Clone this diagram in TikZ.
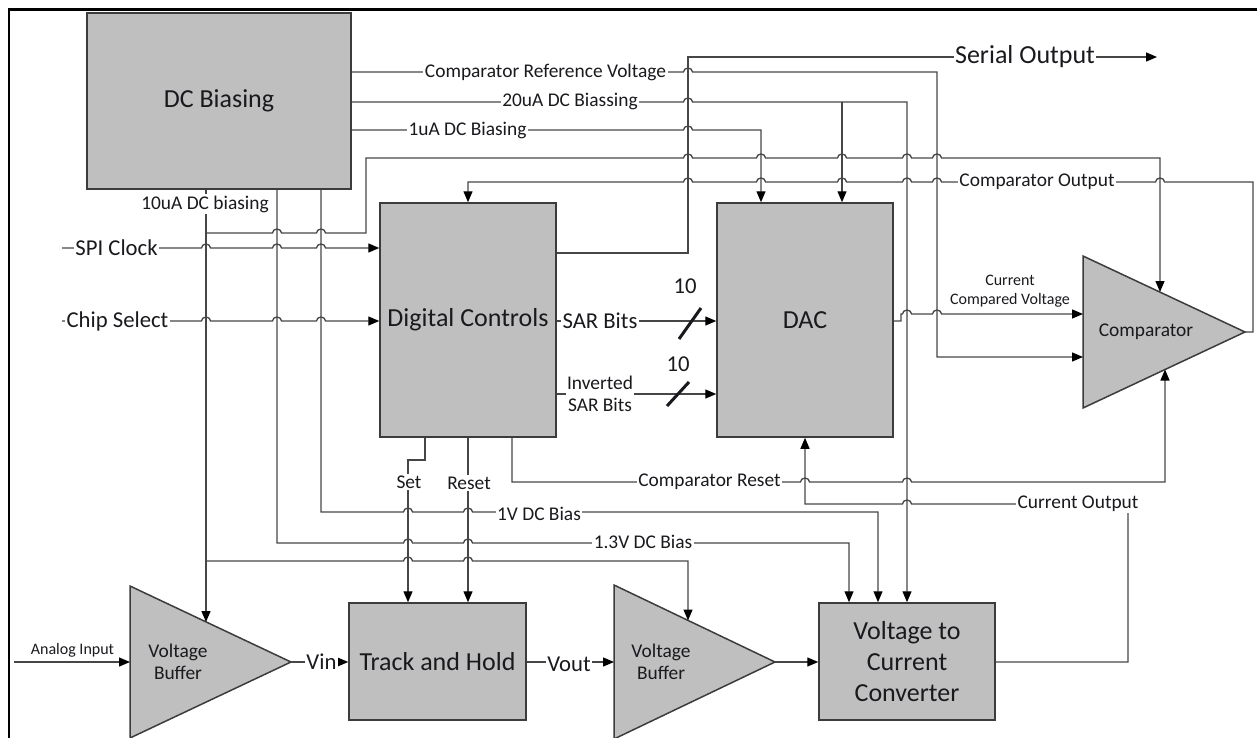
\documentclass[tikz,border=0pt]{standalone}
\usepackage{fontspec}
\setmainfont{Carlito}
\usetikzlibrary{arrows.meta}
\definecolor{wirec}{RGB}{70,70,70}
\definecolor{edgec}{RGB}{60,60,60}
\definecolor{blockc}{RGB}{191,191,191}
\definecolor{textc}{RGB}{25,25,30}
\begin{document}
\begin{tikzpicture}[x=1pt,y=-1pt,
  fXL/.style={font=\fontsize{26}{31}\selectfont},
  fL/.style={font=\fontsize{22.7}{27}\selectfont},
  fM/.style={font=\fontsize{19.4}{22.5}\selectfont},
  fS/.style={font=\fontsize{16}{19}\selectfont},
  wire/.style={draw=wirec, line width=1.3pt},
  arr/.style={wire, -{Triangle[length=11pt,width=9pt,color=black]}},
  block/.style={draw=edgec, line width=1.5pt, fill=blockc, inner sep=0pt,
                text=textc, align=center, fXL},
  tri/.style={draw=edgec, line width=1.5pt, fill=blockc},
  lbl/.style={fill=white, inner sep=1.5pt, text=textc, align=center},
  txt/.style={inner sep=0pt, text=textc, align=center},
  hopr/.style 2 args={insert path={-- ({#1-4.5},#2) arc[start angle=180,end angle=0,x radius=4.5pt,y radius=4pt]}},
  hopl/.style 2 args={insert path={-- ({#1+4.5},#2) arc[start angle=0,end angle=180,x radius=4.5pt,y radius=4pt]}},
]
\useasboundingbox (0,0) rectangle (1257,738);

% outer frame (left and top edges)
\draw[line width=2.5pt] (9,738) -- (9,9.5) -- (1257,9.5);

% columns and rows used by the wiring
\foreach \v in {206,277,321,366,408,425,468,512,688,761,805,842,849,878,907,937,1128,1160,1165,1253}
  \coordinate (c\v) at (\v,0);
\foreach \v in {57,72,102,130,158,182,233,248,253,314,321,357,394,460,482,504,512,543,561,662}
  \coordinate (r\v) at (0,\v);

% rectangular blocks
\node[block, minimum width=264pt, minimum height=176pt] (dcb) at (219,101) {DC Biasing};
\node[block, minimum width=176pt, minimum height=234pt] (dig) at (468,320) {Digital Controls};
\node[block, minimum width=176pt, minimum height=234pt] (dac) at (805,320) {DAC};
\node[block, minimum width=177pt, minimum height=117pt] (th) at (437.5,661.5) {Track and Hold};
\node[block, minimum width=176pt, minimum height=117pt] (v2i) at (907,661.5) {Voltage to\\Current\\Converter};

% amplifier triangles
\draw[tri] (130,586) -- (291,662) -- (130,738) -- cycle;
\draw[tri] (614,585) -- (775,662) -- (614,739) -- cycle;
\draw[tri] (1083,256) -- (1245,332) -- (1083,408) -- cycle;
\node[txt, fM] (vb1) at (178,662) {Voltage\\Buffer};
\node[txt, fM] (vb2) at (661,662) {Voltage\\Buffer};
\node[txt, fM] (cmp) at (1146,332) {Comparator};

\coordinate (vb1w) at (130,662);
\coordinate (vb1e) at (291,662);
\coordinate (vb1top) at (206,622);
\coordinate (vb2w) at (614,662);
\coordinate (vb2e) at (775,662);
\coordinate (vb2top) at (688,620.5);
\coordinate (cmpL) at (1083,0);
\coordinate (cmpout) at (1245,332);
\coordinate (cmptop) at (1160,292);
\coordinate (cmpbot) at (1165,369.5);
\coordinate (spiin) at (62,248);
\coordinate (csin) at (62,321);
\coordinate (ain) at (14,662);
\coordinate (serout) at (1157,57);

% external inputs
\draw[arr] (spiin) [hopr={206}{248}] [hopr={277}{248}] [hopr={321}{248}] -- (dig.west |- spiin);
\draw[arr] (csin) [hopr={206}{321}] [hopr={277}{321}] [hopr={321}{321}] -- (dig.west |- csin);

% bias outputs of the DC biasing block
\draw[arr] (dcb.east |- r72) [hopr={688}{72}] -- (c937 |- r72) -- (c937 |- r357) -- (cmpL |- r357);
\draw[arr] (dcb.east |- r102) [hopr={688}{102}] -- (c907 |- r102) -- (v2i.north -| c907);
\draw[arr] (c842 |- r102) -- (dac.north -| c842);
\draw[arr] (dcb.east |- r130) [hopr={688}{130}] -- (c761 |- r130) -- (dac.north -| c761);
\draw[arr] (dcb.south -| c206) -- (vb1top);
\draw[arr] (c206 |- r233) [hopr={277}{233}] [hopr={321}{233}] -- (c366 |- r233) -- (c366 |- r158)
  [hopr={688}{158}] [hopr={761}{158}] [hopr={842}{158}] [hopr={907}{158}] [hopr={937}{158}]
  -- (c1160 |- r158) -- (cmptop);
\draw[arr] (c206 |- r561) [hopr={408}{561}] [hopr={468}{561}] -- (c688 |- r561) -- (vb2top);
\draw[arr] (dcb.south -| c277) -- (c277 |- r543) [hopr={408}{543}] [hopr={468}{543}] -- (c849 |- r543) -- (v2i.north -| c849);
\draw[arr] (dcb.south -| c321) -- (c321 |- r512) [hopr={408}{512}] [hopr={468}{512}] -- (c878 |- r512) -- (v2i.north -| c878);

% comparator feedback to the digital controls
\draw[arr] (cmpout) -- (c1253 |- cmpout) -- (c1253 |- r182)
  [hopl={1160}{182}] [hopl={937}{182}] [hopl={907}{182}] [hopl={842}{182}] [hopl={761}{182}] [hopl={688}{182}]
  -- (c468 |- r182) -- (dig.north -| c468);

% serial output
\draw[arr] (dig.east |- r253) -- (c688 |- r253) -- (c688 |- r57) -- (serout);

% SAR bit buses
\draw[arr] (dig.east |- r321) -- (dac.west |- r321);
\draw[arr] (dig.east |- r394) -- (dac.west |- r394);
\coordinate (bus1a) at (679,339);
\coordinate (bus1b) at (701,308);
\coordinate (bus2a) at (667,406);
\coordinate (bus2b) at (689,382);
\draw[line width=3pt, textc] (bus1a) -- (bus1b);
\draw[line width=3pt, textc] (bus2a) -- (bus2b);

% DAC output to comparator
\draw[arr] (dac.east |- r321) -- (901,321) -- (901,314) [hopr={907}{314}] [hopr={937}{314}] -- (cmpL |- r314);

% comparator reset
\draw[arr] (dig.south -| c512) -- (c512 |- r482) [hopr={805}{482}] [hopr={907}{482}] -- (c1165 |- r482) -- (cmpbot);

% current output back to the DAC
\draw[arr] (v2i.east |- r662) -- (c1128 |- r662) -- (c1128 |- r504) [hopl={907}{504}] -- (c805 |- r504) -- (dac.south -| c805);

% set / reset of the track and hold
\draw[arr] (dig.south -| c425) -- (c425 |- r460) -- (c408 |- r460) -- (th.north -| c408);
\draw[arr] (dig.south -| c468) -- (th.north -| c468);

% analog signal chain
\draw[arr] (ain) -- (vb1w);
\draw[arr] (vb1e) -- (th.west |- vb1e);
\draw[arr] (th.east |- r662) -- (vb2w);
\draw[arr] (vb2e) -- (v2i.west |- vb2e);

% labels
\node[lbl, fM] (l10ua) at (205,204) {10uA DC biasing};
\node[lbl, fM] (lcrv) at (545.5,72) {Comparator Reference Voltage};
\node[lbl, fM] (l20ua) at (570,101.5) {20uA DC Biassing};
\node[lbl, fM] (l1ua) at (467.5,130) {1uA DC Biasing};
\node[lbl, fM] (lcout) at (1037,182) {Comparator Output};
\node[lbl, fXL] (lser) at (1025,57) {Serial Output};
\node[lbl, fL] (lspi) at (116.5,248) {SPI Clock};
\node[lbl, fL] (lcs) at (117.5,321) {Chip Select};
\node[lbl, fL] (lsar) at (600,321) {SAR Bits};
\node[lbl, fM] (linv) at (600,394) {Inverted\\SAR Bits};
\node[txt, fL] (n10a) at (685,286) {10};
\node[txt, fL] (n10b) at (678,364) {10};
\node[txt, fS] (lccv) at (1010,291) {Current\\Compared Voltage};
\node[lbl, fM] (lset) at (409,482) {Set};
\node[lbl, fM] (lreset) at (469,483) {Reset};
\node[lbl, fM] (lcres) at (709.5,482) {Comparator Reset};
\node[lbl, fM] (l1v) at (539,514) {1V DC Bias};
\node[lbl, fM] (l13v) at (643,542) {1.3V DC Bias};
\node[lbl, fM] (lcur) at (1078,504) {Current Output};
\node[txt, fS] (lain) at (72.5,650) {Analog Input};
\node[lbl, fL] (lvin) at (321.5,662) {Vin};
\node[lbl, fL] (lvout) at (569,664) {Vout};
\end{tikzpicture}
\end{document}
